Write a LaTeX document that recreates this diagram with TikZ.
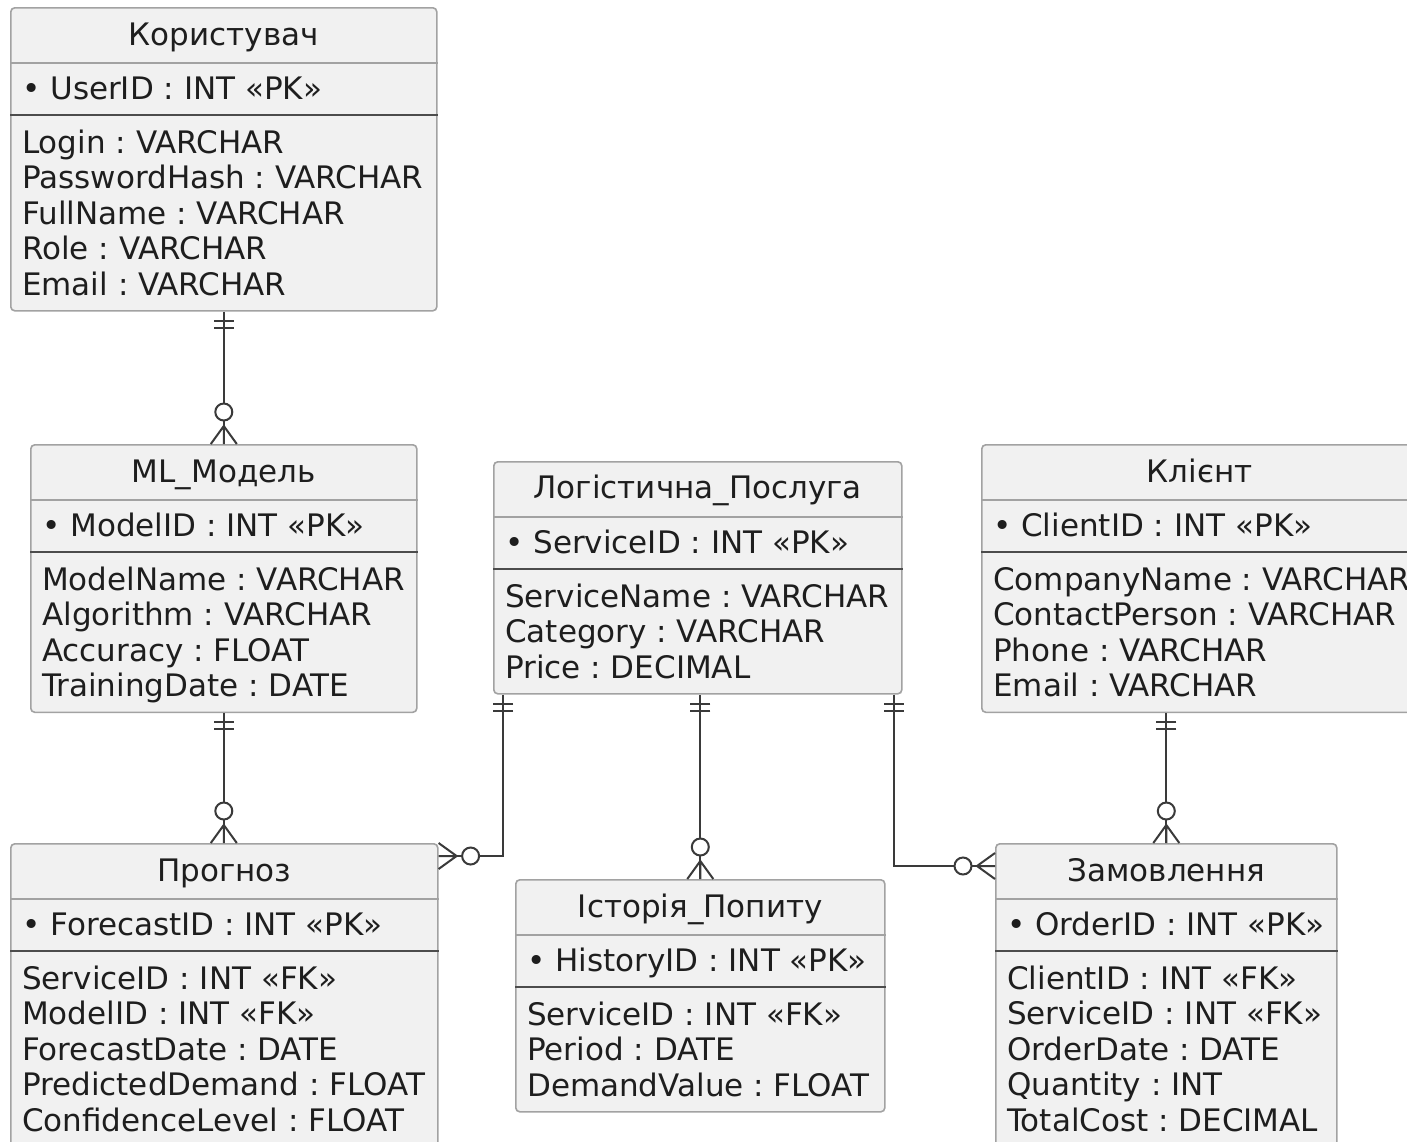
\documentclass[tikz,border=0pt]{standalone}
\usepackage{fontspec}
\setmainfont{DejaVu Sans}
\frenchspacing

\definecolor{entfill}{HTML}{F1F1F1}
\definecolor{entline}{HTML}{A2A2A2}
\definecolor{relline}{HTML}{3A3A3A}
\definecolor{txt}{HTML}{1E1E1E}

\tikzset{
  ent/.style={draw=entline, fill=entfill, line width=1.6pt, rounded corners=4pt,
    anchor=north west, inner sep=0pt},
  sepline/.style={draw=entline, line width=1.6pt},
  pksep/.style={draw=black!70, line width=2.4pt},
  ttl/.style={anchor=base, inner sep=0pt, text=txt, font=\fontsize{31}{35.5}\selectfont},
  fld/.style={anchor=base west, inner sep=0pt, align=left, text=txt,
    font=\fontsize{31}{35.5}\selectfont},
  rel/.style={draw=relline, line width=2pt},
  one/.pic={\draw[rel] (9,-10) -- (9,10) (16,-10) -- (16,10);},
  zmany/.pic={\draw[rel] (0,-13) -- (18,0) -- (0,13) (0,0) -- (18,0);
    \draw[rel, fill=white] (32,0) circle (8.5pt);}
}

\begin{document}
\begin{tikzpicture}[x=1pt, y=-1pt]
\useasboundingbox (0,0) rectangle (1407,1141);
\fill[white] (0,0) rectangle (1407,1141);

% Користувач
\node[ent, minimum width=426pt, minimum height=303pt] (kor) at (10,7) {};
\draw[sepline] ([yshift=-56pt]kor.north west) -- ([yshift=-56pt]kor.north east);
\draw[pksep] ([yshift=-108pt]kor.north west) -- ([yshift=-108pt]kor.north east);
\node[ttl] (kor-t) at ([yshift=-38pt]kor.north) {Користувач};
\node[fld] (kor-k) at ([xshift=12pt,yshift=-92pt]kor.north west) {• UserID : INT «PK»};
\node[fld] (kor-a) at ([xshift=12pt,yshift=-288pt]kor.north west)
  {Login : VARCHAR\\PasswordHash : VARCHAR\\FullName : VARCHAR\\Role : VARCHAR\\Email : VARCHAR};

% ML_Модель
\node[ent, minimum width=386pt, minimum height=267.5pt] (ml) at (30,444) {};
\draw[sepline] ([yshift=-56pt]ml.north west) -- ([yshift=-56pt]ml.north east);
\draw[pksep] ([yshift=-108pt]ml.north west) -- ([yshift=-108pt]ml.north east);
\node[ttl] (ml-t) at ([yshift=-38pt]ml.north) {ML\_Модель};
\node[fld] (ml-k) at ([xshift=12pt,yshift=-92pt]ml.north west) {• ModelID : INT «PK»};
\node[fld] (ml-a) at ([xshift=12pt,yshift=-252.5pt]ml.north west)
  {ModelName : VARCHAR\\Algorithm : VARCHAR\\Accuracy : FLOAT\\TrainingDate : DATE};

% Логістична_Послуга
\node[ent, minimum width=408pt, minimum height=232pt] (log) at (493,461) {};
\draw[sepline] ([yshift=-56pt]log.north west) -- ([yshift=-56pt]log.north east);
\draw[pksep] ([yshift=-108pt]log.north west) -- ([yshift=-108pt]log.north east);
\node[ttl] (log-t) at ([yshift=-37pt]log.north) {Логістична\_Послуга};
\node[fld] (log-k) at ([xshift=12pt,yshift=-92pt]log.north west) {• ServiceID : INT «PK»};
\node[fld] (log-a) at ([xshift=12pt,yshift=-217pt]log.north west)
  {ServiceName : VARCHAR\\Category : VARCHAR\\Price : DECIMAL};

% Клієнт
\node[ent, minimum width=436pt, minimum height=267.5pt] (kli) at (981,444) {};
\draw[sepline] ([yshift=-56pt]kli.north west) -- ([yshift=-56pt]kli.north east);
\draw[pksep] ([yshift=-108pt]kli.north west) -- ([yshift=-108pt]kli.north east);
\node[ttl] (kli-t) at ([yshift=-38pt]kli.north) {Клієнт};
\node[fld] (kli-k) at ([xshift=12pt,yshift=-92pt]kli.north west) {• ClientID : INT «PK»};
\node[fld] (kli-a) at ([xshift=12pt,yshift=-252.5pt]kli.north west)
  {CompanyName : VARCHAR\\ContactPerson : VARCHAR\\Phone : VARCHAR\\Email : VARCHAR};

% Прогноз
\node[ent, minimum width=427pt, minimum height=303pt] (prog) at (10,843) {};
\draw[sepline] ([yshift=-56pt]prog.north west) -- ([yshift=-56pt]prog.north east);
\draw[pksep] ([yshift=-108pt]prog.north west) -- ([yshift=-108pt]prog.north east);
\node[ttl] (prog-t) at ([yshift=-38pt]prog.north) {Прогноз};
\node[fld] (prog-k) at ([xshift=12pt,yshift=-92pt]prog.north west) {• ForecastID : INT «PK»};
\node[fld] (prog-a) at ([xshift=12pt,yshift=-288pt]prog.north west)
  {ServiceID : INT «FK»\\ModelID : INT «FK»\\ForecastDate : DATE\\PredictedDemand : FLOAT\\ConfidenceLevel : FLOAT};

% Історія_Попиту
\node[ent, minimum width=369pt, minimum height=232pt] (ist) at (515,879) {};
\draw[sepline] ([yshift=-56pt]ist.north west) -- ([yshift=-56pt]ist.north east);
\draw[pksep] ([yshift=-108pt]ist.north west) -- ([yshift=-108pt]ist.north east);
\node[ttl] (ist-t) at ([yshift=-38pt]ist.north) {Історія\_Попиту};
\node[fld] (ist-k) at ([xshift=12pt,yshift=-92pt]ist.north west) {• HistoryID : INT «PK»};
\node[fld] (ist-a) at ([xshift=12pt,yshift=-217pt]ist.north west)
  {ServiceID : INT «FK»\\Period : DATE\\DemandValue : FLOAT};

% Замовлення
\node[ent, minimum width=341pt, minimum height=303pt] (zam) at (995,843) {};
\draw[sepline] ([yshift=-56pt]zam.north west) -- ([yshift=-56pt]zam.north east);
\draw[pksep] ([yshift=-108pt]zam.north west) -- ([yshift=-108pt]zam.north east);
\node[ttl] (zam-t) at ([yshift=-38pt]zam.north) {Замовлення};
\node[fld] (zam-k) at ([xshift=12pt,yshift=-92pt]zam.north west) {• OrderID : INT «PK»};
\node[fld] (zam-a) at ([xshift=12pt,yshift=-288pt]zam.north west)
  {ClientID : INT «FK»\\ServiceID : INT «FK»\\OrderDate : DATE\\Quantity : INT\\TotalCost : DECIMAL};

% Зв'язки
\coordinate (p1) at ([yshift=-13pt]prog.north east);
\coordinate (z1) at ([yshift=-23pt]zam.north west);
\draw[rel] (kor.south) -- (ml.north);
\draw[rel] (ml.south) -- (ml.south |- prog.north);
\draw[rel] ([xshift=10pt]log.south west) |- (p1);
\draw[rel] (ist.north) -- (ist.north |- log.south);
\draw[rel] ([xshift=-9pt]log.south east) |- (z1);
\draw[rel] (zam.north) -- (zam.north |- kli.south);

% Кінці
\pic[rotate=-90] at (kor.south) {one};
\pic[rotate=90] at (ml.north) {zmany};
\pic[rotate=-90] at (ml.south) {one};
\pic[rotate=90] at (ml.south |- prog.north) {zmany};
\pic[rotate=-90] at ([xshift=10pt]log.south west) {one};
\pic at (p1) {zmany};
\pic[rotate=-90] at (ist.north |- log.south) {one};
\pic[rotate=90] at (ist.north) {zmany};
\pic[rotate=-90] at ([xshift=-9pt]log.south east) {one};
\pic[rotate=180] at (z1) {zmany};
\pic[rotate=-90] at (zam.north |- kli.south) {one};
\pic[rotate=90] at (zam.north) {zmany};
\end{tikzpicture}
\end{document}
